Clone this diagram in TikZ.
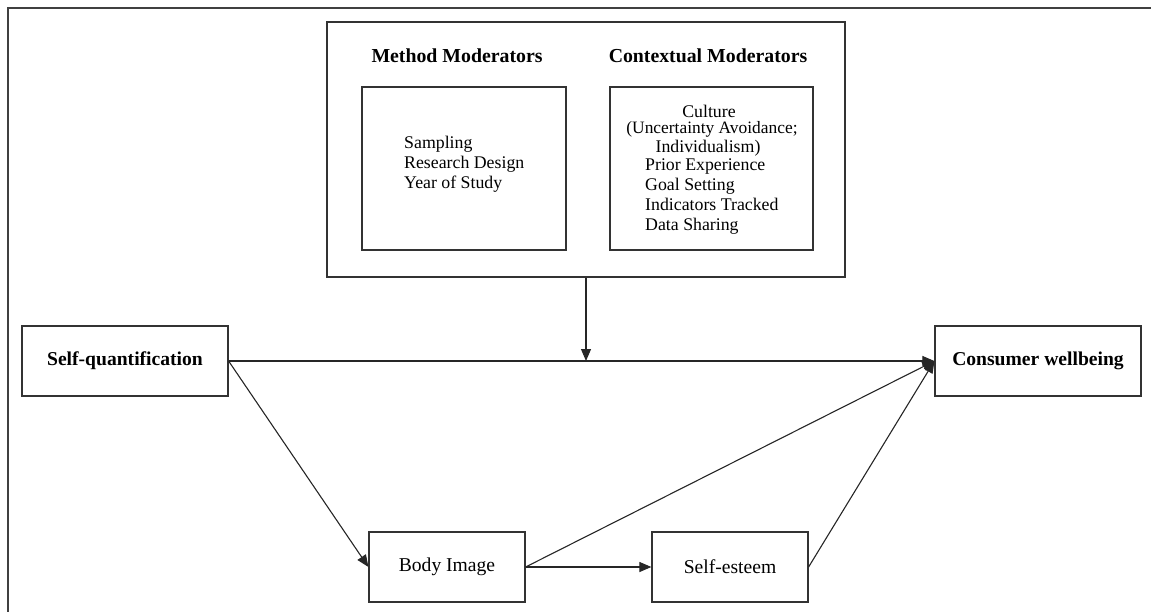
\documentclass[tikz,border=0pt]{standalone}
\usepackage{fontspec}
\setmainfont{Liberation Serif}
\usetikzlibrary{arrows.meta}
\begin{document}
\begin{tikzpicture}[x=1pt,y=-1pt,
  box/.style={draw=black!80,line width=1.2pt,inner sep=0pt,align=center},
  lbl/.style={inner sep=0pt,font=\fontsize{17.8}{19.8}\selectfont},
  blbl/.style={inner sep=0pt,font=\fontsize{19.8}{22}\selectfont\bfseries},
  mainbox/.style={box,minimum height=70pt,font=\fontsize{19.6}{22}\selectfont},
  conn/.style={draw=black!85,line width=1.1pt},
  arr/.style={conn,-{Triangle[length=12pt,width=10pt]}}]
\useasboundingbox (0,0) rectangle (1151,612);
% outer frame (partial)
\draw[draw=black!75,line width=1.6pt] (8,612) -- (8,8) -- (1151,8);
% moderators
\node[box,minimum width=518pt,minimum height=255pt] (mod) at (586,149.5) {};
\node[box,minimum width=204pt,minimum height=163pt] (meth) at (464,168.5) {};
\node[box,minimum width=203pt,minimum height=163pt] (ctx) at (711.5,168.5) {};
\node[blbl] (tmeth) at (457,56) {Method Moderators};
\node[blbl] (tctx) at (708,56) {Contextual Moderators};
\node[lbl,align=left,anchor=west] (mtext) at (404,164) {Sampling\\Research Design\\Year of Study};
\node[lbl] (c1) at (709,111) {Culture};
\node[lbl,font=\fontsize{17.4}{19}\selectfont] (c2) at (712,129) {(Uncertainty Avoidance;};
\node[lbl] (c3) at (708,148) {Individualism)};
\node[lbl,align=left,anchor=north west,font=\fontsize{17.8}{20}\selectfont] (c4) at (645,159) {Prior Experience\\Goal Setting\\Indicators Tracked\\Data Sharing};
% main boxes
\node[mainbox,minimum width=206pt,font=\fontsize{19.6}{22}\selectfont\bfseries] (sq) at (125,361) {Self-quantification};
\node[mainbox,minimum width=206pt,font=\fontsize{19.6}{22}\selectfont\bfseries] (cw) at (1038,361) {Consumer wellbeing};
\node[mainbox,minimum width=156pt] (bi) at (447,567) {Body Image};
\node[mainbox,minimum width=156pt] (se) at (730,567) {Self-esteem};
\coordinate (j) at (586,361);
% connectors
\draw[arr] (mod.south) -- (j);
\draw[arr] (sq.east) -- (cw.west);
\draw[arr] (sq.east) -- (bi.west);
\draw[arr] (bi.east) -- (se.west);
\draw[arr] (bi.east) -- (cw.west);
\draw[arr] (se.east) -- (cw.west);
\end{tikzpicture}
\end{document}
